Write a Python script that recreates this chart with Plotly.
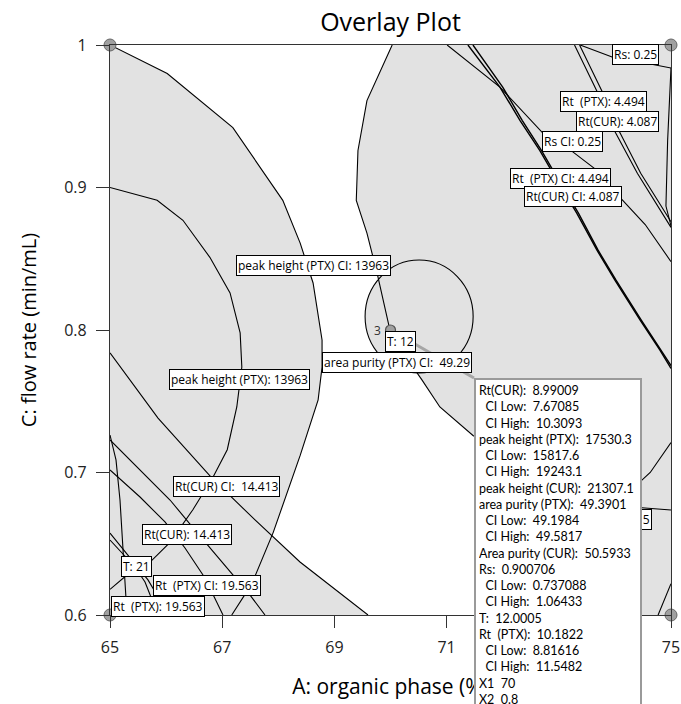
import plotly.graph_objects as go

# ---------------- data ----------------
x_range = [65, 75]
y_range = [0.6, 1.0]
x_ticks = [65, 67, 69, 71, 73, 75]
y_ticks = [0.6, 0.7, 0.8, 0.9, 1.0]
y_ticktext = ["0.6", "0.7", "0.8", "0.9", "1"]

# peak height (PTX) CI: 13963  (outer left boundary)
ph_ci_x = [65.0, 66.02, 67.19, 68.08, 68.39, 68.62, 68.78, 68.78, 68.71, 68.39, 67.91, 67.53, 67.17]
ph_ci_y = [1.0, 0.980, 0.942, 0.891, 0.861, 0.833, 0.793, 0.774, 0.751, 0.712, 0.658, 0.622, 0.600]

# peak height (PTX): 13963 (inner arc)
ph_x = [65.0, 65.84, 66.30, 66.78, 67.14, 67.32, 67.35, 67.26, 67.09, 66.84, 66.48, 66.07, 65.71, 65.27, 65.0]
ph_y = [0.9, 0.891, 0.877, 0.851, 0.826, 0.798, 0.774, 0.746, 0.716, 0.697, 0.674, 0.651, 0.637, 0.627, 0.618]

# boundary of the large right region
ap_x = [70.03, 69.58, 69.42, 69.39, 69.58, 69.76, 69.99, 70.22, 70.40, 70.56, 70.88, 71.47, 72.13, 72.75, 73.38, 73.91, 74.30, 74.63, 75.0]
ap_y = [1.0, 0.961, 0.926, 0.891, 0.868, 0.840, 0.800, 0.784, 0.774, 0.765, 0.746, 0.726, 0.712, 0.700, 0.690, 0.684, 0.688, 0.700, 0.721]

# area purity (PTX) CI: 49.29 (small closed contour): centre and half widths
apci_cx, apci_cy = 70.51, 0.8095
apci_rx, apci_ry = 0.963, 0.0396

# Rt(CUR) CI: 14.413
rtc_ci_x = [65.0, 65.856, 66.818, 67.585, 68.387, 69.599]
rtc_ci_y = [0.7839, 0.7382, 0.6961, 0.6667, 0.6372, 0.6]

# other lower-left contours
steep_x = [65.0, 65.107, 65.178, 65.232, 65.303]
steep_y = [0.7263, 0.7088, 0.6807, 0.6456, 0.6]
rtc_x = [65.0, 65.535, 65.980, 66.337, 66.693, 67.014]
rtc_y = [0.7018, 0.6828, 0.6653, 0.6470, 0.6260, 0.6]
rtp_ci_x = [65.0, 65.535, 66.070, 66.515, 67.050, 67.496, 67.763]
rtp_ci_y = [0.7228, 0.7018, 0.6807, 0.6596, 0.6351, 0.6140, 0.6]
rtp_x = [65.0, 65.499, 65.677, 65.891, 66.034]
rtp_y = [0.6575, 0.6337, 0.6246, 0.6105, 0.6]
t21_x = [65.0, 65.446, 65.624, 65.749, 65.856]
t21_y = [0.6526, 0.6337, 0.6232, 0.6105, 0.6]

# upper-right contours
rs_x = [73.38, 73.95, 74.54, 75.0]
rs_y = [1.0, 0.9916, 0.9874, 0.9839]
rs_edge_x = [75.0, 74.94, 74.91, 75.0]
rs_edge_y = [0.984, 0.933, 0.887, 0.873]
rtp44_x = [73.28, 73.81, 73.99, 74.40, 75.0]
rtp44_y = [1.0, 0.957, 0.940, 0.910, 0.872]
rtc40_x = [73.37, 73.90, 74.07, 74.46, 75.0]
rtc40_y = [1.0, 0.957, 0.940, 0.910, 0.876]
rtp44ci_x = [71.38, 71.95, 72.31, 72.66, 72.97, 73.32, 73.68, 74.00, 74.45, 74.80, 75.0]
rtp44ci_y = [1.0, 0.9705, 0.947, 0.926, 0.905, 0.882, 0.856, 0.835, 0.807, 0.786, 0.773]
rtc40ci_x = [71.47, 72.00, 72.35, 72.69, 73.00, 73.35, 73.70, 74.02, 74.47, 74.81, 75.0]
rtc40ci_y = [1.0, 0.9705, 0.947, 0.926, 0.905, 0.882, 0.856, 0.835, 0.807, 0.786, 0.775]
rsci_x = [71.01, 71.95, 72.72, 73.25, 73.68, 74.09, 74.54, 75.0]
rsci_y = [1.0, 0.9705, 0.938, 0.925, 0.912, 0.893, 0.874, 0.848]

# lower-right contours
lr1_x = [73.9, 74.09, 74.447, 75.0]
lr1_y = [0.677, 0.6765, 0.6751, 0.6737]
lr2_x = [74.77, 75.0]
lr2_y = [0.6, 0.622]

# design point
pt_x, pt_y = 70.0, 0.8

labels = [
    ("Rs: 0.25", 74.376, 0.9933),
    ("Rt\u00a0\u00a0(PTX): 4.494", 73.788, 0.9607),
    ("Rt(CUR): 4.087", 74.055, 0.946),
    ("Rs CI: 0.25", 73.253, 0.932),
    ("Rt\u00a0\u00a0(PTX) CI: 4.494", 73.039, 0.906),
    ("Rt(CUR) CI: 4.087", 73.253, 0.894),
    ("peak height (PTX) CI: 13963", 68.636, 0.8456),
    ("peak height (PTX): 13963", 67.30, 0.765),
    ("T: 12", 70.187, 0.7916),
    ("area purity (PTX) CI:\u00a0\u00a049.29", 70.116, 0.7775),
    ("Rt(CUR) CI:\u00a0\u00a014.413", 67.068, 0.6905),
    ("Rt(CUR): 14.413", 66.373, 0.6568),
    ("T: 21", 65.48, 0.6337),
    ("Rt\u00a0\u00a0(PTX) CI: 19.563", 66.73, 0.6204),
    ("Rt\u00a0\u00a0(PTX): 19.563", 65.856, 0.6063),
]
hidden_label = "Rs CI:\u00a0\u00a0\u00a05"   # only its last character shows beside the popup

popup_names = ["Rt(CUR):", "\u00a0\u00a0CI Low:", "\u00a0\u00a0CI High:", "peak height (PTX):",
               "\u00a0\u00a0CI Low:", "\u00a0\u00a0CI High:", "peak height (CUR):", "area purity (PTX):",
               "\u00a0\u00a0CI Low:", "\u00a0\u00a0CI High:", "Area purity (CUR):", "Rs:",
               "\u00a0\u00a0CI Low:", "\u00a0\u00a0CI High:", "T:", "Rt\u00a0\u00a0(PTX):",
               "\u00a0\u00a0CI Low:", "\u00a0\u00a0CI High:", "X1", "X2"]
popup_values = ["8.99009", "7.67085", "10.3093", "17530.3", "15817.6", "19243.1", "21307.1",
                "49.3901", "49.1984", "49.5817", "50.5933", "0.900706", "0.737088", "1.06433",
                "12.0005", "10.1822", "8.81616", "11.5482", "70", "0.8"]

# ---------------- figure ----------------
GRAY = "#e2e2e2"
FONT = "Open Sans"
POPFONT = "Lato, Open Sans"
fig = go.Figure()

def fill(xs, ys):
    fig.add_trace(go.Scatter(x=xs, y=ys, mode="lines", fill="toself", fillcolor=GRAY,
                             line=dict(width=0), hoverinfo="skip", showlegend=False))

def line(xs, ys, w=1.1):
    fig.add_trace(go.Scatter(x=xs, y=ys, mode="lines", line=dict(color="black", width=w),
                             hoverinfo="skip", showlegend=False))

fill(ph_ci_x + [65.0], ph_ci_y + [0.6])
fill(rtc_ci_x + [65.0], rtc_ci_y + [0.6])
fill(ap_x + [75.0], ap_y + [1.0])
fill([73.5] + ap_x[-4:] + [75.0, 73.5], [0.69] + ap_y[-4:] + [0.6, 0.6])

for xs, ys in [(ph_ci_x, ph_ci_y), (ph_x, ph_y), (ap_x, ap_y), (rtc_ci_x, rtc_ci_y),
               (steep_x, steep_y), (rtc_x, rtc_y), (rtp_ci_x, rtp_ci_y), (rtp_x, rtp_y),
               (t21_x, t21_y), (rs_x, rs_y), (rs_edge_x, rs_edge_y), (rtp44_x, rtp44_y),
               (rtc40_x, rtc40_y), (rsci_x, rsci_y), (lr1_x, lr1_y), (lr2_x, lr2_y)]:
    line(xs, ys)
line(rtp44ci_x, rtp44ci_y, 1.4)
line(rtc40ci_x, rtc40ci_y, 1.4)

# leader line from design point to the popup
pop_x, pop_y = 71.488, 0.7663
fig.add_trace(go.Scatter(x=[pt_x, pop_x], y=[pt_y, pop_y], mode="lines",
                         line=dict(color="#a6a6a6", width=3), hoverinfo="skip", showlegend=False))
# design point
fig.add_trace(go.Scatter(x=[pt_x], y=[pt_y], mode="markers",
                         marker=dict(size=10, color="#a0a0a0", line=dict(color="#555", width=1.2)),
                         hoverinfo="skip", showlegend=False))
# corner points
fig.add_trace(go.Scatter(x=[65, 75, 65, 75], y=[1.0, 1.0, 0.6, 0.6], mode="markers",
                         marker=dict(size=12, color="#a0a0a0", line=dict(color="#666", width=1)),
                         cliponaxis=False, hoverinfo="skip", showlegend=False))

shapes = [
    dict(type="circle", xref="x", yref="y", layer="below",
         x0=apci_cx - apci_rx, x1=apci_cx + apci_rx, y0=apci_cy - apci_ry, y1=apci_cy + apci_ry,
         fillcolor=GRAY, line=dict(width=0)),
    dict(type="circle", xref="x", yref="y", layer="above",
         x0=apci_cx - apci_rx, x1=apci_cx + apci_rx, y0=apci_cy - apci_ry, y1=apci_cy + apci_ry,
         line=dict(color="black", width=1.1)),
]

annotations = []
for txt, lx, ly in labels:
    annotations.append(dict(x=lx, y=ly, xref="x", yref="y", text=txt, showarrow=False,
                            font=dict(family=FONT, size=12, color="black"),
                            bgcolor="white", bordercolor="black", borderwidth=1, borderpad=1))
annotations.append(dict(x=74.661, y=0.6667, xref="x", yref="y", xanchor="right",
                        text=hidden_label, showarrow=False,
                        font=dict(family=FONT, size=12, color="black"),
                        bgcolor="white", bordercolor="black", borderwidth=1, borderpad=1))
annotations.append(dict(x=69.86, y=pt_y, xref="x", yref="y", xanchor="right", text="3",
                        showarrow=False, font=dict(family=FONT, size=12, color="#333")))
popup_text = "<br>".join(n + "\u00a0\u00a0" + v for n, v in zip(popup_names, popup_values))
annotations.append(dict(x=pop_x, y=pop_y, xref="x", yref="y", xanchor="left", yanchor="top",
                        text=popup_text, showarrow=False, align="left", width=158,
                        font=dict(family=POPFONT, size=12.5, color="black"),
                        bgcolor="white", bordercolor="#9a9a9a", borderwidth=2, borderpad=3))

fig.update_layout(
    width=681, height=704,
    margin=dict(l=110, r=10, t=45, b=89, autoexpand=False),
    plot_bgcolor="white", paper_bgcolor="white",
    title=dict(text="Overlay Plot", x=0.5, xref="paper", xanchor="center",
               y=1 - 22 / 704, yref="container", yanchor="middle",
               font=dict(family=FONT, size=25, color="black")),
    xaxis=dict(range=x_range, tickvals=x_ticks, ticks="outside", ticklen=12, tickcolor="#333",
               showline=True, linecolor="#333", linewidth=1.2, mirror=True, showgrid=False,
               zeroline=False, ticklabelstandoff=6, automargin=False,
               tickfont=dict(family=FONT, size=16, color="#222"),
               title=dict(text="A: organic phase (%)", font=dict(family=FONT, size=21, color="black"),
                          standoff=22)),
    yaxis=dict(range=y_range, tickvals=y_ticks, ticktext=y_ticktext,
               ticks="outside", ticklen=13, tickcolor="#333",
               showline=True, linecolor="#333", linewidth=1.2, mirror=True, showgrid=False,
               zeroline=False, ticklabelstandoff=6, automargin=False,
               tickfont=dict(family=FONT, size=16, color="#222"),
               title=dict(text="C: flow rate (min/mL)", font=dict(family=FONT, size=20, color="black"),
                          standoff=22)),
    shapes=shapes,
    annotations=annotations,
)

fig.write_html("out.html")
